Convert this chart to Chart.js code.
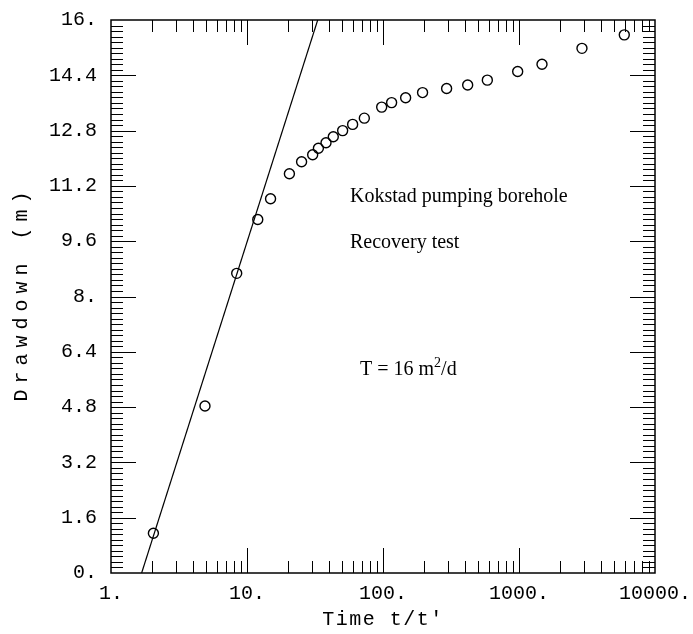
<!DOCTYPE html>
<html>
<head>
<meta charset="utf-8">
<script src="https://cdn.jsdelivr.net/npm/chart.js@4.4.0/dist/chart.umd.min.js"></script>
<style>
  html, body { margin: 0; padding: 0; background: #fff; }
  #wrap { width: 693px; height: 634px; }
</style>
</head>
<body>
<div id="wrap"><canvas id="c" width="693" height="634"></canvas></div>
<script>
// recovery data
const timeRatio = [2.05, 4.91, 8.4, 12.0, 14.9, 20.5, 25.2, 30.4, 33.5, 38.1, 43.1, 50.5, 59.8, 72.9, 97.8, 115.7, 146.7, 195.4, 293.6, 419.4, 585, 978, 1476, 2904, 5946];
const drawdown = [1.15, 4.83, 8.67, 10.23, 10.83, 11.55, 11.90, 12.10, 12.29, 12.45, 12.62, 12.80, 12.98, 13.16, 13.48, 13.61, 13.75, 13.90, 14.02, 14.12, 14.26, 14.51, 14.72, 15.18, 15.57];

// straight line fit (Cooper-Jacob)
const fitX = [1.68, 33.1];
const fitY = [0, 16];

const xTicks = [1, 10, 100, 1000, 10000];
const yTicks = [0, 1.6, 3.2, 4.8, 6.4, 8, 9.6, 11.2, 12.8, 14.4, 16];

const notes = [
    { text: 'Kokstad pumping borehole', x: 57.2, y: 10.74 },
    { text: 'Recovery test', x: 57.2, y: 9.40 }
];
const tNote = { x: 67.8, y: 5.73 };

const fmt = v => Number.isInteger(v) ? v + '.' : v.toFixed(1);

// inward ticks, frame, titles and notes
const decor = {
    id: 'decor',
    afterDraw(chart) {
        const { ctx, chartArea: a, scales: { x, y } } = chart;
        ctx.save();
        ctx.strokeStyle = '#000';
        ctx.lineWidth = 1;
        ctx.beginPath();
        for (let d = 1; d < 10000; d *= 10) {
            for (let k = 1; k < 10; k++) {
                if (d === 1 && k === 1) continue;
                const px = Math.round(x.getPixelForValue(d * k)) + 0.5;
                const len = k === 1 ? 25 : 12;
                ctx.moveTo(px, a.bottom); ctx.lineTo(px, a.bottom - len);
                ctx.moveTo(px, a.top); ctx.lineTo(px, a.top + len);
            }
        }
        for (let i = 1; i < 100; i++) {
            const py = Math.round(y.getPixelForValue(i * 0.16)) + 0.5;
            const len = i % 10 === 0 ? 25 : 12;
            ctx.moveTo(a.left, py); ctx.lineTo(a.left + len, py);
            ctx.moveTo(a.right, py); ctx.lineTo(a.right - len, py);
        }
        ctx.stroke();
        ctx.lineWidth = 1.5;
        ctx.strokeRect(a.left, a.top, a.right - a.left, a.bottom - a.top);

        // axis titles
        ctx.fillStyle = '#000';
        ctx.font = '20px "Liberation Mono"';
        ctx.textAlign = 'center';
        ctx.textBaseline = 'middle';
        ctx.letterSpacing = '1.5px';
        ctx.fillText("Time t/t'", (a.left + a.right) / 2, 620);
        ctx.save();
        ctx.translate(22, (a.top + a.bottom) / 2);
        ctx.rotate(-Math.PI / 2);
        ctx.letterSpacing = '6px';
        ctx.fillText('Drawdown (m)', 3, 0);
        ctx.restore();
        ctx.letterSpacing = '0px';

        // notes
        ctx.font = '20px "Liberation Serif"';
        ctx.textAlign = 'left';
        ctx.textBaseline = 'alphabetic';
        notes.forEach(n => {
            ctx.fillText(n.text, x.getPixelForValue(n.x), y.getPixelForValue(n.y));
        });
        let tx = x.getPixelForValue(tNote.x);
        const ty = y.getPixelForValue(tNote.y);
        ctx.fillText('T = 16 m', tx, ty);
        tx += ctx.measureText('T = 16 m').width;
        ctx.font = '14px "Liberation Serif"';
        ctx.fillText('2', tx, ty - 8);
        tx += ctx.measureText('2').width;
        ctx.font = '20px "Liberation Serif"';
        ctx.fillText('/d', tx, ty);
        ctx.restore();
    }
};

new Chart(document.getElementById('c'), {
    type: 'scatter',
    data: {
        datasets: [
            {
                data: timeRatio.map((t, i) => ({ x: t, y: drawdown[i] })),
                pointStyle: 'circle',
                pointRadius: 5,
                borderWidth: 1.4,
                borderColor: '#000',
                backgroundColor: 'rgba(0,0,0,0)'
            },
            {
                type: 'line',
                data: fitX.map((t, i) => ({ x: t, y: fitY[i] })),
                borderColor: '#000',
                borderWidth: 1.2,
                pointRadius: 0
            }
        ]
    },
    options: {
        responsive: false,
        animation: false,
        layout: { padding: { top: 20, right: 38, left: 0, bottom: 0 } },
        plugins: { legend: { display: false }, tooltip: { enabled: false } },
        scales: {
            x: {
                type: 'logarithmic',
                min: 1, max: 10000,
                grid: { display: false, drawTicks: false },
                border: { display: false },
                afterBuildTicks: s => { s.ticks = xTicks.map(v => ({ value: v })); },
                afterFit: s => { s.height = 61; s.paddingLeft = 0; s.paddingRight = 0; },
                ticks: {
                    color: '#000',
                    padding: 9,
                    maxRotation: 0,
                    autoSkip: false,
                    font: { family: '"Liberation Mono"', size: 20 },
                    callback: v => fmt(v)
                }
            },
            y: {
                min: 0, max: 16,
                grid: { display: false, drawTicks: false },
                border: { display: false },
                afterBuildTicks: s => { s.ticks = yTicks.map(v => ({ value: v })); },
                afterFit: s => { s.width = 111; s.paddingTop = 0; s.paddingBottom = 0; },
                ticks: {
                    color: '#000',
                    padding: 14,
                    autoSkip: false,
                    font: { family: '"Liberation Mono"', size: 20 },
                    callback: v => fmt(v)
                }
            }
        }
    },
    plugins: [decor]
});
</script>
</body>
</html>
